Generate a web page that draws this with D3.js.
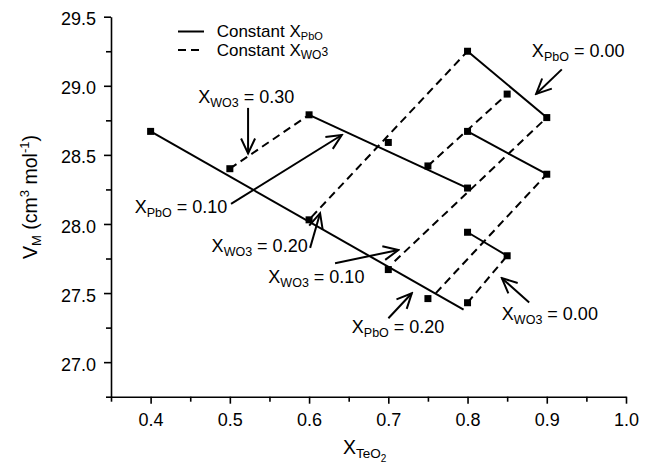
<!DOCTYPE html>
<html><head><meta charset="utf-8">
<script src="https://cdn.jsdelivr.net/npm/d3@7"></script>
<style>
body{margin:0;background:#fff}
svg{display:block;background:#fff}
text{font-family:"Liberation Sans",Arial,Helvetica,sans-serif;fill:#000}
</style>
</head><body>
<svg id="c" width="652" height="466"></svg>
<script>
// ---- data ----
const xTicks = [0.4, 0.5, 0.6, 0.7, 0.8, 0.9, 1.0];
const xMinorTicks = [0.35, 0.45, 0.55, 0.65, 0.75, 0.85, 0.95];
const yTicks = [27.0, 27.5, 28.0, 28.5, 29.0, 29.5];
const yMinorTicks = [26.75, 27.25, 27.75, 28.25, 28.75, 29.25];

const pointTeO2 = [0.40, 0.50, 0.60, 0.60, 0.70, 0.80, 0.85, 0.90, 0.80, 0.75, 0.80, 0.90, 0.80, 0.85, 0.70, 0.75, 0.80];
const pointVM   = [28.67, 28.40, 28.79, 28.03, 28.59, 29.25, 28.94, 28.77, 28.67, 28.42, 28.26, 28.36, 27.94, 27.77, 27.67, 27.46, 27.43];

// constant X_PbO (solid fit lines): [x1, y1, x2, y2]
const constPbOLines = [
  [0.40, 28.67, 0.795, 27.38],
  [0.60, 28.79, 0.80, 28.26],
  [0.80, 29.25, 0.90, 28.77],
  [0.80, 28.67, 0.90, 28.36],
  [0.80, 27.94, 0.85, 27.77]
];
// constant X_WO3 (dashed fit lines)
const constWO3Lines = [
  [0.50, 28.40, 0.60, 28.79],
  [0.603, 28.05, 0.80, 29.25],
  [0.75, 28.42, 0.85, 28.94],
  [0.708, 27.73, 0.90, 28.77],
  [0.76, 27.50, 0.90, 28.36],
  [0.80, 27.43, 0.85, 27.77]
];

// annotations: label parts, text anchor, arrow tail, arrow head (data units)
const annotations = [
  {sub: "WO3", val: "0.30", at: [0.460, 28.874], tail: [0.523, 28.84], head: [0.523, 28.51]},
  {sub: "PbO", val: "0.10", at: [0.380, 28.076], tail: [0.5015, 28.145], head: [0.6413, 28.644]},
  {sub: "WO3", val: "0.20", at: [0.477, 27.800], tail: [0.6013, 27.827], head: [0.6139, 28.078]},
  {sub: "WO3", val: "0.10", at: [0.5486, 27.571], tail: [0.6328, 27.716], head: [0.7128, 27.812]},
  {sub: "PbO", val: "0.20", at: [0.6539, 27.211], tail: [0.7001, 27.318], head: [0.7297, 27.499]},
  {sub: "WO3", val: "0.00", at: [0.8433, 27.306], tail: [0.8778, 27.431], head: [0.8433, 27.608]},
  {sub: "PbO", val: "0.00", at: [0.8812, 29.206], tail: [0.919, 29.119], head: [0.8866, 28.941]}
];

// ---- drawing ----
const svg = d3.select("#c");
const x = d3.scaleLinear().domain([0.35, 1.0]).range([111, 626]);
const y = d3.scaleLinear().domain([26.75, 29.5]).range([396.7, 16.7]);

const defs = svg.append("defs");
defs.append("marker")
  .attr("id", "arr").attr("markerUnits", "userSpaceOnUse")
  .attr("viewBox", "-18 -9 20 18").attr("refX", 0).attr("refY", 0)
  .attr("markerWidth", 20).attr("markerHeight", 18).attr("orient", "auto")
  .append("path").attr("d", "M-15,-7L0,0L-15,7")
  .attr("fill", "none").attr("stroke", "#000").attr("stroke-width", 2)
  .attr("stroke-linejoin", "miter");

// axes
const fs = 18;
svg.append("g").attr("transform", "translate(0,396.7)")
  .call(d3.axisBottom(x).tickValues(xTicks).tickFormat(d3.format(".1f"))
    .tickSize(7).tickPadding(9.6).tickSizeOuter(0));
svg.append("g").attr("transform", "translate(0,396.7)")
  .call(d3.axisBottom(x).tickValues(xMinorTicks).tickFormat("").tickSize(5).tickSizeOuter(0))
  .select(".domain").remove();
const yAxis = svg.append("g").attr("transform", "translate(111,0)")
  .call(d3.axisLeft(y).tickValues(yTicks).tickFormat(d3.format(".1f"))
    .tickSize(7).tickPadding(8).tickSizeOuter(0));
svg.append("g").attr("transform", "translate(111,0)")
  .call(d3.axisLeft(y).tickValues(yMinorTicks).tickFormat("").tickSize(5).tickSizeOuter(0))
  .select(".domain").remove();

svg.selectAll(".tick line, .domain").attr("stroke", "#000").attr("stroke-width", 1.6);
svg.selectAll(".tick text").attr("font-size", fs)
  .attr("font-family", '"Liberation Sans",Arial,sans-serif').attr("fill", "#000");
yAxis.selectAll(".tick text").attr("dy", "0.45em");

// lines
const lineG = svg.append("g");
lineG.selectAll("line.s").data(constPbOLines).join("line").attr("class", "s")
  .attr("x1", d => x(d[0])).attr("y1", d => y(d[1]))
  .attr("x2", d => x(d[2])).attr("y2", d => y(d[3]))
  .attr("stroke", "#000").attr("stroke-width", 2);
lineG.selectAll("line.d").data(constWO3Lines).join("line").attr("class", "d")
  .attr("x1", d => x(d[0])).attr("y1", d => y(d[1]))
  .attr("x2", d => x(d[2])).attr("y2", d => y(d[3]))
  .attr("stroke", "#000").attr("stroke-width", 2).attr("stroke-dasharray", "8,5");

// markers
const ms = 7;
svg.append("g").selectAll("rect").data(pointTeO2).join("rect")
  .attr("x", (d, i) => x(d) - ms / 2).attr("y", (d, i) => y(pointVM[i]) - ms / 2)
  .attr("width", ms).attr("height", ms).attr("fill", "#000");

// annotations
const annG = svg.append("g");
annotations.forEach(a => {
  annG.append("line")
    .attr("x1", x(a.tail[0])).attr("y1", y(a.tail[1]))
    .attr("x2", x(a.head[0])).attr("y2", y(a.head[1]))
    .attr("stroke", "#000").attr("stroke-width", 2).attr("marker-end", "url(#arr)");
  const t = annG.append("text").attr("x", x(a.at[0])).attr("y", y(a.at[1])).attr("font-size", 18);
  t.append("tspan").text("X");
  t.append("tspan").attr("font-size", 12.5).attr("dy", 4).text(a.sub);
  t.append("tspan").attr("dy", -4).text(" = " + a.val);
});

// legend
const leg = svg.append("g");
leg.append("line").attr("x1", 178).attr("x2", 204).attr("y1", 31.5).attr("y2", 31.5)
  .attr("stroke", "#000").attr("stroke-width", 2);
leg.append("line").attr("x1", 178).attr("x2", 204).attr("y1", 50).attr("y2", 50)
  .attr("stroke", "#000").attr("stroke-width", 2).attr("stroke-dasharray", "8,5");
const l1 = leg.append("text").attr("x", 216.7).attr("y", 37).attr("font-size", 17);
l1.append("tspan").text("Constant X");
l1.append("tspan").attr("font-size", 11).attr("dy", 2.5).text("PbO");
const l2 = leg.append("text").attr("x", 216.7).attr("y", 55.5).attr("font-size", 17);
l2.append("tspan").text("Constant X");
l2.append("tspan").attr("font-size", 12).attr("dy", 3.5).text("WO");
l2.append("tspan").attr("font-size", 12).attr("dy", -3).text("3");

// axis titles
const xt = svg.append("text").attr("x", 343).attr("y", 454).attr("font-size", 19.5);
xt.append("tspan").text("X");
xt.append("tspan").attr("font-size", 13.5).attr("dy", 4).text("TeO");
xt.append("tspan").attr("font-size", 10).attr("dy", 4).text("2");

const yt = svg.append("text").attr("transform", "translate(37,197) rotate(-90)")
  .attr("text-anchor", "middle").attr("font-size", 19.5);
yt.append("tspan").text("V");
yt.append("tspan").attr("font-size", 13).attr("dy", 4).text("M");
yt.append("tspan").attr("dy", -4).text(" (cm");
yt.append("tspan").attr("font-size", 13).attr("dy", -8).text("3");
yt.append("tspan").attr("dy", 8).text(" mol");
yt.append("tspan").attr("font-size", 13).attr("dy", -8).text("-1");
yt.append("tspan").attr("dy", 8).text(")");
</script>
</body></html>
